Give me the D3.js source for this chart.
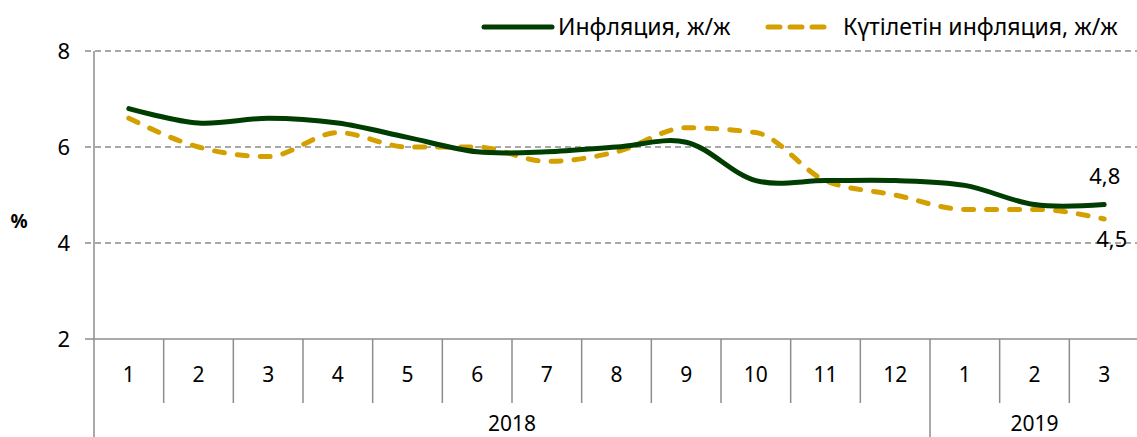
<!DOCTYPE html>
<html>
<head>
<meta charset="utf-8">
<script src="https://cdn.jsdelivr.net/npm/d3@7"></script>
<style>
  body { margin: 0; background: #fff; }
  svg text { font-family: "Noto Sans", "DejaVu Sans", sans-serif; fill: #000; }
</style>
</head>
<body>
<svg id="chart" width="1137" height="437"></svg>
<script>
(function(){
    "use strict";

    var months = ["1", "2", "3", "4", "5", "6", "7", "8", "9", "10", "11", "12", "1", "2", "3"];
    var years = [{ label: "2018", from: 0, to: 12 }, { label: "2019", from: 12, to: 15 }];
    var inflation = [6.8, 6.5, 6.6, 6.5, 6.2, 5.9, 5.9, 6.0, 6.1, 5.3, 5.3, 5.3, 5.2, 4.8, 4.8];
    var expected = [6.6, 6.0, 5.8, 6.3, 6.0, 6.0, 5.7, 5.9, 6.4, 6.3, 5.3, 5.0, 4.7, 4.7, 4.5];
    var yTicks = [2, 4, 6, 8];
    var seriesNames = ["Инфляция, ж/ж", "Күтілетін инфляция, ж/ж"];

    var margin = { left: 94, right: -2, top: 51 };
    var width = 1137, height = 437;
    var plotBottom = 339;

    var svg = d3.select("#chart");

    var x = d3.scaleBand()
        .domain(d3.range(months.length))
        .range([margin.left, width - margin.right])
        .padding(0);

    var y = d3.scaleLinear()
        .domain([2, 8])
        .range([plotBottom, margin.top]);

    // gridlines
    svg.append("g").selectAll("line")
        .data(yTicks.filter(function(d) { return d > 2; }))
        .enter()
        .append("line")
        .attr("x1", 85)
        .attr("x2", width)
        .attr("y1", function(d) { return y(d); })
        .attr("y2", function(d) { return y(d); })
        .attr("stroke", "#8c8c8c")
        .attr("stroke-width", 1.5)
        .attr("stroke-dasharray", "6,4");

    // y tick labels
    svg.append("g").selectAll("text")
        .data(yTicks)
        .enter()
        .append("text")
        .attr("x", 70)
        .attr("y", function(d) { return y(d); })
        .attr("dy", "0.35em")
        .attr("text-anchor", "end")
        .attr("font-size", 22)
        .text(function(d) { return d; });

    svg.append("text")
        .attr("x", 19)
        .attr("y", 221)
        .attr("dy", "0.35em")
        .attr("text-anchor", "middle")
        .attr("font-size", 19)
        .attr("font-weight", "bold")
        .text("%");

    // axes
    svg.append("line")
        .attr("x1", margin.left).attr("x2", margin.left)
        .attr("y1", margin.top).attr("y2", height)
        .attr("stroke", "#8c8c8c").attr("stroke-width", 1.5);

    svg.append("line")
        .attr("x1", 85).attr("x2", width)
        .attr("y1", plotBottom).attr("y2", plotBottom)
        .attr("stroke", "#8c8c8c").attr("stroke-width", 1.5);

    // month separators
    svg.append("g").selectAll("line")
        .data(d3.range(1, months.length))
        .enter()
        .append("line")
        .attr("x1", function(d) { return x(d); })
        .attr("x2", function(d) { return x(d); })
        .attr("y1", plotBottom)
        .attr("y2", function(d) {
            var isYear = years.some(function(yr) { return yr.from === d; });
            return isYear ? height : 403;
        })
        .attr("stroke", "#8c8c8c")
        .attr("stroke-width", 1.5);

    svg.append("g").selectAll("text")
        .data(months)
        .enter()
        .append("text")
        .attr("x", function(d, i) { return x(i) + x.bandwidth() / 2; })
        .attr("y", 375)
        .attr("dy", "0.35em")
        .attr("text-anchor", "middle")
        .attr("font-size", 21)
        .text(function(d) { return d; });

    svg.append("g").selectAll("text")
        .data(years)
        .enter()
        .append("text")
        .attr("x", function(d) { return (x(d.from) + x(d.to - 1) + x.bandwidth()) / 2; })
        .attr("y", 424)
        .attr("dy", "0.35em")
        .attr("text-anchor", "middle")
        .attr("font-size", 21)
        .text(function(d) { return d.label; });

    // lines
    var cx = function(d, i) { return x(i) + x.bandwidth() / 2; };

    var lineSmooth = d3.line()
        .x(cx)
        .y(function(d) { return y(d); })
        .curve(d3.curveCatmullRom.alpha(0.5));

    var lineExp = d3.line()
        .x(cx)
        .y(function(d) { return y(d); })
        .curve(d3.curveMonotoneX);

    svg.append("path")
        .datum(expected)
        .attr("d", lineExp)
        .attr("fill", "none")
        .attr("stroke", "#d4a000")
        .attr("stroke-width", 5)
        .attr("stroke-linecap", "round")
        .attr("stroke-dasharray", "10,13");

    svg.append("path")
        .datum(inflation)
        .attr("d", lineSmooth)
        .attr("fill", "none")
        .attr("stroke", "#003d00")
        .attr("stroke-width", 5)
        .attr("stroke-linecap", "round");

    // end labels
    var last = months.length - 1;
    svg.append("text")
        .attr("x", cx(null, last) - 15)
        .attr("y", y(inflation[last]) - 28)
        .attr("dy", "0.35em")
        .attr("font-size", 22)
        .text(String(inflation[last]).replace(".", ","));

    svg.append("text")
        .attr("x", cx(null, last) - 8)
        .attr("y", y(expected[last]) + 20)
        .attr("dy", "0.35em")
        .attr("font-size", 22)
        .text(String(expected[last]).replace(".", ","));

    // legend
    var legend = svg.append("g");
    legend.append("line")
        .attr("x1", 484).attr("x2", 552)
        .attr("y1", 27).attr("y2", 27)
        .attr("stroke", "#003d00").attr("stroke-width", 5)
        .attr("stroke-linecap", "round");
    legend.append("text")
        .attr("x", 558).attr("y", 27).attr("dy", "0.35em")
        .attr("font-size", 23)
        .text(seriesNames[0]);
    legend.append("line")
        .attr("x1", 768).attr("x2", 827)
        .attr("y1", 27).attr("y2", 27)
        .attr("stroke", "#d4a000").attr("stroke-width", 5)
        .attr("stroke-linecap", "round")
        .attr("stroke-dasharray", "12,10");
    legend.append("text")
        .attr("x", 843).attr("y", 27).attr("dy", "0.35em")
        .attr("font-size", 23)
        .text(seriesNames[1]);
})();
</script>
</body>
</html>
